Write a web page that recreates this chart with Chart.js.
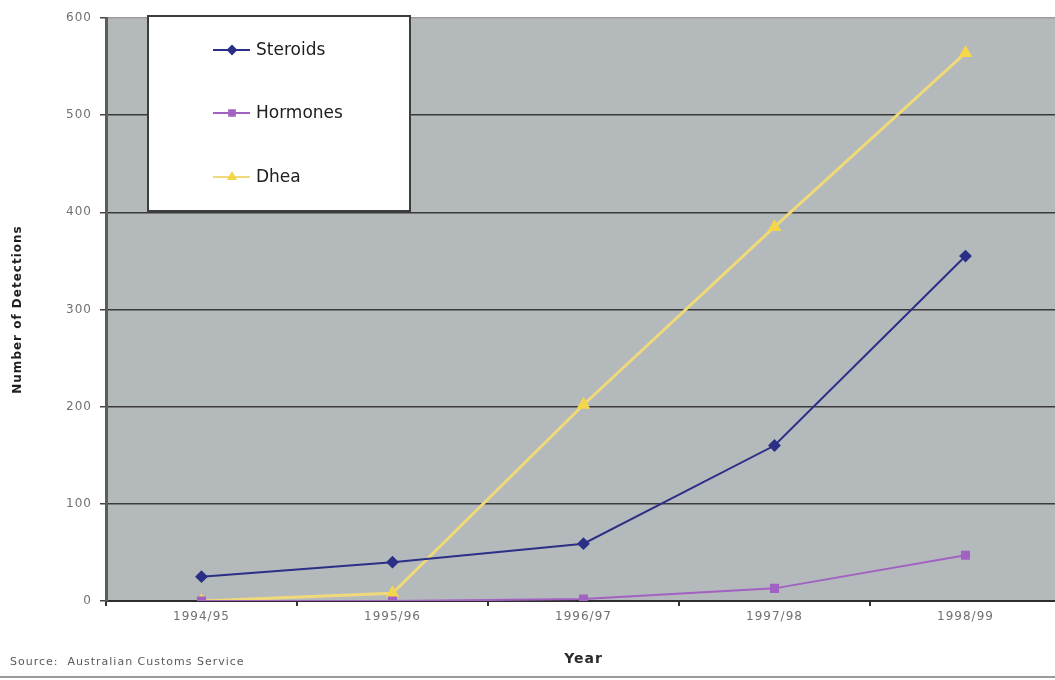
<!DOCTYPE html>
<html>
<head>
<meta charset="utf-8">
<title>Number of Detections</title>
<script src="https://cdn.jsdelivr.net/npm/chart.js@4.4.1/dist/chart.umd.min.js"></script>
<style>
  html, body { margin: 0; padding: 0; background: #ffffff; overflow: hidden; }
  #wrap { position: relative; width: 1069px; height: 680px; }
  canvas { display: block; }
</style>
</head>
<body>
<div id="wrap"><canvas id="chart" width="1069" height="680"></canvas></div>
<script>
// Detections per financial year, by substance group
const years = ['1994/95', '1995/96', '1996/97', '1997/98', '1998/99'];
const steroids = [25, 40, 59, 160, 355];
const hormones = [0, 0, 2, 13, 47];
const dhea = [0, 8, 202, 385, 564];
const yTicks = [0, 100, 200, 300, 400, 500, 600];
const seriesNames = ['Steroids', 'Hormones', 'Dhea'];
const sourceNote = 'Source:  Australian Customs Service';

const FONT = 'DejaVu Sans';
const SPACING = '1px';

// Slightly widened lettering for axis text
const spacingPlugin = {
  id: 'spacing',
  beforeUpdate(chart) { chart.ctx.letterSpacing = SPACING; },
  beforeDraw(chart) { chart.ctx.letterSpacing = SPACING; }
};

// White page and grey plot area
const backdropPlugin = {
  id: 'backdrop',
  beforeDraw(chart) {
    const { ctx, chartArea: a, width, height } = chart;
    ctx.save();
    ctx.fillStyle = '#ffffff';
    ctx.fillRect(0, 0, width, height);
    ctx.fillStyle = '#b4b9bc';
    ctx.fillRect(a.left, a.top, a.right - a.left, a.bottom - a.top);
    ctx.restore();
  }
};

// Boxed legend inside the plot, source note and bottom rule
const decorPlugin = {
  id: 'decor',
  afterDraw(chart) {
    const { ctx, width } = chart;
    ctx.save();

    const box = { x: 148, y: 16, w: 262, h: 195 };
    ctx.fillStyle = '#ffffff';
    ctx.fillRect(box.x, box.y, box.w, box.h);
    ctx.strokeStyle = '#3d3d3d';
    ctx.lineWidth = 2;
    ctx.strokeRect(box.x, box.y, box.w, box.h);

    const rows = [50, 113, 177];
    ctx.letterSpacing = '0px';
    chart.data.datasets.forEach((d, i) => {
      const y = rows[i];
      ctx.strokeStyle = d.borderColor;
      ctx.lineWidth = Math.min(d.borderWidth, 2);
      ctx.beginPath();
      ctx.moveTo(213, y);
      ctx.lineTo(250, y);
      ctx.stroke();
      ctx.fillStyle = d.pointBackgroundColor;
      ctx.strokeStyle = d.pointBorderColor;
      Chart.helpers.drawPoint(ctx, { pointStyle: d.pointStyle, radius: 4, rotation: 0, borderWidth: 1 }, 232, y);
      ctx.fillStyle = '#202020';
      ctx.font = '17px "' + FONT + '"';
      ctx.textAlign = 'left';
      ctx.textBaseline = 'middle';
      ctx.fillText(d.label, 256, y + 1);
    });

    ctx.letterSpacing = SPACING;
    ctx.fillStyle = '#5a5a5a';
    ctx.font = '11px "' + FONT + '"';
    ctx.textAlign = 'left';
    ctx.textBaseline = 'middle';
    ctx.fillText(sourceNote, 10, 662);

    ctx.strokeStyle = '#9a9a9a';
    ctx.lineWidth = 2;
    ctx.beginPath();
    ctx.moveTo(0, 677);
    ctx.lineTo(width, 677);
    ctx.stroke();
    ctx.restore();
  }
};

const colours = {
  steroids: '#2b2f86',
  hormones: '#a262c2',
  dheaLine: '#f0d978',
  dheaPoint: '#f5d64a'
};

new Chart(document.getElementById('chart'), {
  type: 'line',
  data: {
    labels: years,
    datasets: [
      {
        label: seriesNames[0], data: steroids,
        borderColor: colours.steroids, borderWidth: 2,
        pointStyle: 'rectRot', pointRadius: 5,
        pointBackgroundColor: colours.steroids, pointBorderColor: colours.steroids
      },
      {
        label: seriesNames[1], data: hormones,
        borderColor: colours.hormones, borderWidth: 2,
        pointStyle: 'rect', pointRadius: 5,
        pointBackgroundColor: colours.hormones, pointBorderColor: colours.hormones
      },
      {
        label: seriesNames[2], data: dhea,
        borderColor: colours.dheaLine, borderWidth: 3,
        pointStyle: 'triangle', pointRadius: 5,
        pointBackgroundColor: colours.dheaPoint, pointBorderColor: colours.dheaPoint
      }
    ]
  },
  options: {
    responsive: false,
    devicePixelRatio: 1,
    animation: false,
    layout: { padding: { left: 0, top: 18, right: 1, bottom: 0 } },
    plugins: {
      legend: { display: false },
      tooltip: { enabled: false }
    },
    elements: { line: { tension: 0 } },
    scales: {
      x: {
        type: 'category',
        offset: true,
        afterFit(scale) { scale.height = 79; },
        grid: { offset: true, drawOnChartArea: false, drawTicks: true, tickLength: 5, tickColor: '#333333', lineWidth: 2 },
        border: { display: true, color: '#2e2e2e', width: 2 },
        ticks: { color: '#707070', padding: 4, maxRotation: 0, font: { family: FONT, size: 12 } },
        title: {
          display: true, text: 'Year', color: '#2a2a2a',
          font: { family: FONT, size: 14, weight: 'bold' },
          padding: { top: 0, bottom: 12 }
        }
      },
      y: {
        min: 0, max: 600,
        afterFit(scale) { scale.width = 106; },
        afterBuildTicks(scale) { scale.ticks = yTicks.map(v => ({ value: v })); },
        grid: {
          color: c => (c.tick && c.tick.value === 600) ? '#9c9c9c' : '#3a3a3a',
          lineWidth: 1.5,
          tickLength: 6,
          tickColor: '#444444'
        },
        border: { display: true, color: '#5c5c5c', width: 3 },
        ticks: { color: '#707070', padding: 8, font: { family: FONT, size: 12 } },
        title: {
          display: true, text: 'Number of Detections', color: '#1e1e1e',
          font: { family: FONT, size: 12, weight: 'bold' },
          padding: { top: 11, bottom: 0 }
        }
      }
    }
  },
  plugins: [spacingPlugin, backdropPlugin, decorPlugin]
});
</script>
</body>
</html>
